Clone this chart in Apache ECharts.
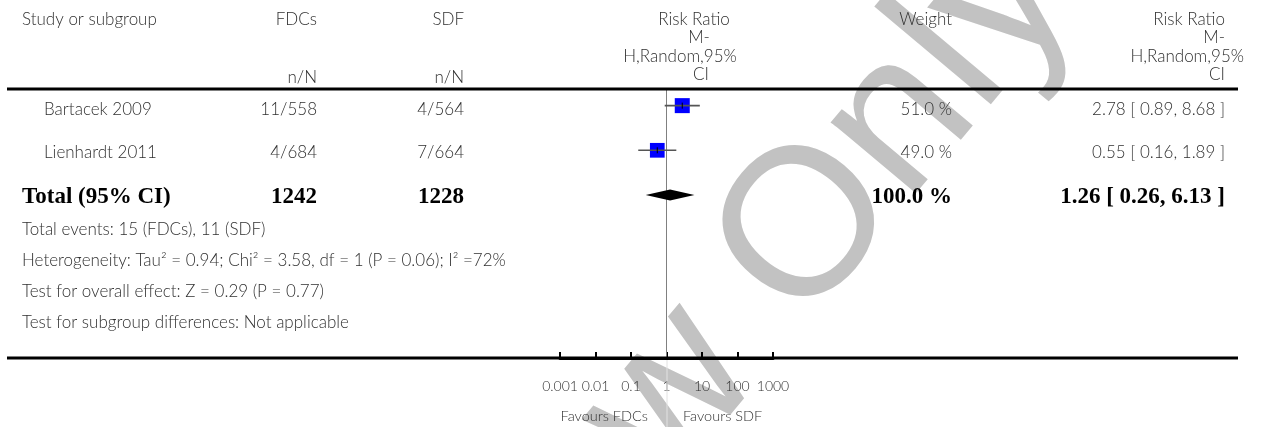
<!DOCTYPE html>
<html>
<head>
<meta charset="utf-8">
<script src="https://cdn.jsdelivr.net/npm/echarts@6/dist/echarts.min.js"></script>
<style>
  html, body { margin: 0; padding: 0; background: #fff; }
  #chart { width: 1270px; height: 427px; }
</style>
</head>
<body>
<div id="chart"></div>
<script>
// Study-level data (risk ratio, Mantel-Haenszel random effects)
const studies = ['Bartacek 2009', 'Lienhardt 2011'];
const fdcEvents = [11, 4];
const fdcTotals = [558, 684];
const sdfEvents = [4, 7];
const sdfTotals = [564, 664];
const weights = [51.0, 49.0];
const riskRatios = [2.78, 0.55];
const ciLower = [0.89, 0.16];
const ciUpper = [8.68, 1.89];

// Pooled estimate: [RR, lower, upper]
const pooledRR = [1.26, 0.26, 6.13];
const pooledWeight = 100.0;

// Log axis tick labels, from 10^-3 to 10^3
const tickLabels = ['0.001', '0.01', '0.1', '1', '10', '100', '1000'];

const sum = arr => arr.reduce((a, b) => a + b, 0);
const footnotes = [
  'Total events: ' + sum(fdcEvents) + ' (FDCs), ' + sum(sdfEvents) + ' (SDF)',
  'Heterogeneity: Tau\u00b2 = 0.94; Chi\u00b2 = 3.58, df = 1 (P = 0.06); I\u00b2 =72%',
  'Test for overall effect: Z = 0.29 (P = 0.77)',
  'Test for subgroup differences: Not applicable'
];

const SANS = 'Lato';
const SERIF = '"Liberation Serif"';
const TXT = '#303030';
const baseFont = '300 17px ' + SANS;
const smallFont = '300 14.5px ' + SANS;
const boldFont = 'bold 23px ' + SERIF;

const fmt = v => v.toFixed(2);
const ciText = (rr, lo, hi) => fmt(rr) + ' [ ' + fmt(lo) + ', ' + fmt(hi) + ' ]';

function text(x, y, str, align, font, fill) {
  return {
    type: 'text', x: x, y: y, z: 20, silent: true,
    style: {
      text: str, textAlign: align || 'left', textVerticalAlign: 'middle',
      font: font || baseFont, fill: fill || TXT
    }
  };
}
function hline(x1, x2, y, w, color) {
  return { type: 'line', z: 15, silent: true,
    shape: { x1: x1, y1: y, x2: x2, y2: y },
    style: { stroke: color || '#000', lineWidth: w } };
}

const rowY = [110, 153];
const totalY = 197;
const col = { name: 44, fdc: 317, sdf: 464, weight: 952, rr: 1225 };

const graphics = [];

// Diagonal watermark
graphics.push({
  type: 'text', x: 536, y: 556, z: 0, silent: true,
  rotation: 50 * Math.PI / 180,
  style: {
    text: 'For Review Only', textAlign: 'center', textVerticalAlign: 'middle',
    font: '210px "Liberation Sans"', fill: '#c2c2c2'
  }
});

// Header
graphics.push(text(22, 20, 'Study or subgroup'));
graphics.push(text(col.fdc, 20, 'FDCs', 'right'));
graphics.push(text(col.fdc, 78, 'n/N', 'right'));
graphics.push(text(col.sdf, 20, 'SDF', 'right'));
graphics.push(text(col.sdf, 78, 'n/N', 'right'));
graphics.push(text(694, 20, 'Risk Ratio', 'center'));
graphics.push(text(699, 38, 'M-', 'center'));
graphics.push(text(680, 57, 'H,Random,95%', 'center'));
graphics.push(text(701, 75, 'CI', 'center'));
graphics.push(text(col.weight, 20, 'Weight', 'right'));
graphics.push(text(col.rr, 20, 'Risk Ratio', 'right'));
graphics.push(text(col.rr, 38, 'M-', 'right'));
graphics.push(text(1244, 57, 'H,Random,95%', 'right'));
graphics.push(text(col.rr, 75, 'CI', 'right'));
graphics.push(hline(7, 1238, 89, 3));

// Study rows
studies.forEach((s, i) => {
  const y = rowY[i];
  graphics.push(text(col.name, y, s));
  graphics.push(text(col.fdc, y, fdcEvents[i] + '/' + fdcTotals[i], 'right'));
  graphics.push(text(col.sdf, y, sdfEvents[i] + '/' + sdfTotals[i], 'right'));
  graphics.push(text(col.weight, y, weights[i].toFixed(1) + ' %', 'right'));
  graphics.push(text(col.rr, y, ciText(riskRatios[i], ciLower[i], ciUpper[i]), 'right'));
});

// Pooled row
graphics.push(text(22, totalY, 'Total (95% CI)', 'left', boldFont, '#000'));
graphics.push(text(col.fdc, totalY, String(sum(fdcTotals)), 'right', boldFont, '#000'));
graphics.push(text(col.sdf, totalY, String(sum(sdfTotals)), 'right', boldFont, '#000'));
graphics.push(text(col.weight, totalY, pooledWeight.toFixed(1) + ' %', 'right', boldFont, '#000'));
graphics.push(text(col.rr, totalY, ciText(pooledRR[0], pooledRR[1], pooledRR[2]), 'right', boldFont, '#000'));

// Footnotes
footnotes.forEach((f, i) => graphics.push(text(22, 230 + i * 31, f)));

// Bottom rule and favours labels
graphics.push(hline(7, 1238, 358, 3));
graphics.push({ type: 'line', z: 15, silent: true,
  shape: { x1: 667, y1: 360, x2: 667, y2: 427 },
  style: { stroke: '#e2e2e2', lineWidth: 1 } });
graphics.push(text(648, 416, 'Favours FDCs', 'right', smallFont));
graphics.push(text(683, 416, 'Favours SDF', 'left', smallFont));

// Forest plot data: [RR, lower, upper, weight, row]
const studyData = studies.map((s, i) => [riskRatios[i], ciLower[i], ciUpper[i], weights[i], i]);
const pooledData = [[pooledRR[0], pooledRR[1], pooledRR[2], pooledWeight, studies.length]];
const maxWeight = Math.max.apply(null, weights);

const chart = echarts.init(document.getElementById('chart'), null, { renderer: 'canvas' });
chart.setOption({
  animation: false,
  backgroundColor: '#fff',
  grid: { left: 560, right: 497, top: 90, bottom: 69, containLabel: false },
  xAxis: {
    type: 'log', logBase: 10, min: 0.001, max: 1000, interval: 1, splitNumber: 6,
    position: 'bottom',
    axisLine: { show: true, onZero: false, lineStyle: { color: '#000', width: 3 } },
    axisTick: { show: true, inside: true, length: 6, lineStyle: { color: '#000', width: 2 } },
    splitLine: { show: false },
    axisLabel: {
      margin: 21, color: TXT, fontFamily: SANS, fontWeight: 300, fontSize: 14, hideOverlap: false,
      showMinLabel: true, showMaxLabel: true,
      formatter: v => tickLabels[Math.round(Math.log10(v)) + 3]
    }
  },
  yAxis: { type: 'value', inverse: true, min: -0.35, max: 5.65, show: false },
  graphic: { elements: graphics },
  series: [
    {
      type: 'custom', name: 'studies', z: 5,
      data: studyData,
      renderItem: function (params, api) {
        const row = api.value(4);
        const c = api.coord([api.value(0), row]);
        const lo = api.coord([api.value(1), row]);
        const hi = api.coord([api.value(2), row]);
        const size = 15 * Math.sqrt(api.value(3) / maxWeight);
        return {
          type: 'group',
          children: [
            { type: 'rect', shape: { x: c[0] - size / 2, y: c[1] - size / 2, width: size, height: size },
              style: { fill: '#0000ff' } },
            { type: 'line', shape: { x1: lo[0], y1: lo[1], x2: hi[0], y2: hi[1] },
              style: { stroke: '#555', lineWidth: 1.6 } },
            { type: 'line', shape: { x1: c[0], y1: c[1] - 3, x2: c[0], y2: c[1] + 3 },
              style: { stroke: '#000', lineWidth: 1 } }
          ]
        };
      },
      markLine: {
        silent: true, symbol: 'none', label: { show: false },
        lineStyle: { color: '#808080', width: 1, type: 'solid' },
        data: [{ xAxis: 1 }]
      }
    },
    {
      type: 'custom', name: 'pooled', z: 5,
      data: pooledData,
      renderItem: function (params, api) {
        const row = api.value(4);
        const c = api.coord([api.value(0), row]);
        const lo = api.coord([api.value(1), row]);
        const hi = api.coord([api.value(2), row]);
        const h = 5.5;
        return {
          type: 'polygon',
          shape: { points: [[lo[0], c[1]], [c[0], c[1] - h], [hi[0], c[1]], [c[0], c[1] + h]] },
          style: { fill: '#000' }
        };
      }
    }
  ]
});
</script>
</body>
</html>
